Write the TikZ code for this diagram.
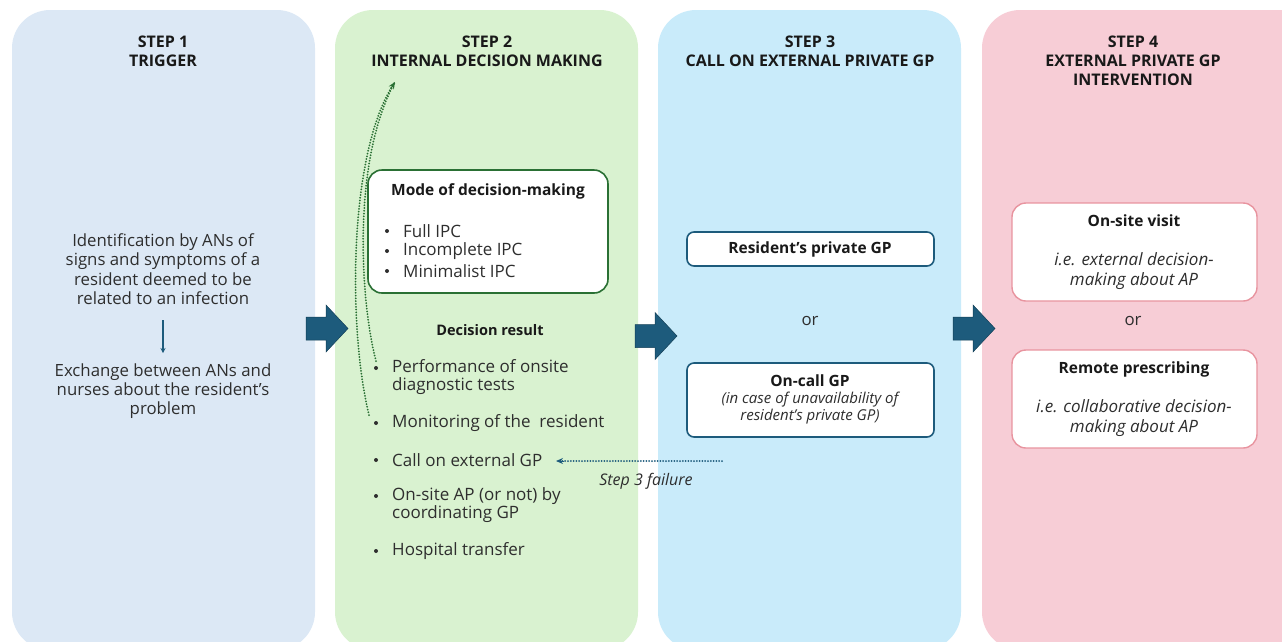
\documentclass[tikz,border=0pt]{standalone}
\usepackage{fontspec}
\setmainfont{Open Sans}
\usetikzlibrary{arrows.meta}
\definecolor{pA}{HTML}{DCE8F5}
\definecolor{pB}{HTML}{D9F2D0}
\definecolor{pC}{HTML}{C9EBFA}
\definecolor{pD}{HTML}{F7CDD6}
\definecolor{arrblue}{HTML}{1D5B7C}
\definecolor{dgreen}{HTML}{2A7034}
\definecolor{pinkb}{HTML}{E8949F}
\definecolor{txt}{HTML}{2E2E2E}
\tikzset{
  panel/.style={rounded corners=38pt, draw=none},
  ttl/.style={font=\fontsize{16}{19}\selectfont\bfseries, align=center, text=black!90},
  body/.style={font=\fontsize{16.8}{19.3}\selectfont, align=center, text=txt},
  hd/.style={font=\fontsize{15.5}{19}\selectfont\bfseries, text=black!90},
  itx/.style={font=\fontsize{17}{20}\selectfont\itshape, align=center, text=txt},
  bl/.style={font=\fontsize{17}{18.5}\selectfont, align=left, text=txt, anchor=west, inner sep=0pt},
  dot/.style={circle, fill=txt, inner sep=0pt, minimum size=4pt},
  boxg/.style={draw=dgreen, line width=1.6pt, rounded corners=14pt, fill=white},
  boxb/.style={draw=arrblue, line width=1.6pt, rounded corners=7pt, fill=white},
  boxp/.style={draw=pinkb, line width=1.4pt, rounded corners=14pt, fill=white},
  bigarrow/.style={fill=arrblue, draw=arrblue!70!black, line width=0.5pt},
  dotline/.style={line width=2pt, dash pattern=on 0pt off 2.8pt, line cap=round},
}
\begin{document}
\begin{tikzpicture}[x=1pt,y=-1pt]
\useasboundingbox (0,0) rectangle (1282,641);
\clip (0,0) rectangle (1282,641);
% panels
\fill[panel,pA] (12,10) rectangle (315,650);
\fill[panel,pB] (335,10) rectangle (638,650);
\fill[panel,pC] (658,10) rectangle (961,650);
\fill[panel,pD] (982,10) rectangle (1320,650);
% titles
\node[ttl] (t1) at (163,51) {STEP 1\\TRIGGER};
\node[ttl] (t2) at (487,51) {STEP 2\\INTERNAL DECISION MAKING};
\node[ttl] (t3) at (810,51) {STEP 3\\CALL ON EXTERNAL PRIVATE GP};
\node[ttl] (t4) at (1133,61) {STEP 4\\EXTERNAL PRIVATE GP\\INTERVENTION};
% step 1
\node[body] (s1a) at (163,269) {Identification by ANs of\\signs and symptoms of a\\resident deemed to be\\related to an infection};
\node[body] (s1b) at (163,391) {Exchange between ANs and\\nurses about the resident’s\\problem};
\draw[arrblue, line width=1.2pt, -{Stealth[length=5pt,width=5pt]}] (163,320) -- (163,353);
% step 2 mode box
\draw[boxg] (368,170) rectangle (608,293);
\node[hd] (mode) at (488,191) {Mode of decision-making};
\foreach \y/\t [count=\i] in {231/Full IPC,251/Incomplete IPC,271/Minimalist IPC}{
  \node[dot] (md\i) at (387,\y) {};
  \node[bl] (mt\i) at (403,\y) {\t};
}
\node[font=\fontsize{14.5}{18}\selectfont\bfseries, text=black!90] (dres) at (490,330) {Decision result};
\node[dot] (b1) at (376,368) {};
\node[bl] (r1) at (392,377) {Performance of onsite\\diagnostic tests};
\node[dot] (b2) at (376,423) {};
\node[bl] (r2) at (392,423) {Monitoring of the\ \ resident};
\node[dot] (b3) at (376,460) {};
\node[bl] (r3) at (392,460) {Call on external GP};
\node[dot] (b4) at (376,496) {};
\node[bl] (r4) at (392,505) {On-site AP (or not) by\\coordinating GP};
\node[dot] (b5) at (376,551) {};
\node[bl] (r5) at (392,551) {Hospital transfer};
% dotted curved arrows
\coordinate (up) at (395,82);
\draw[dgreen, dotline] (369,415) .. controls (348,330) and (348,150) .. (up);
\draw[dgreen, dotline] (376,361) .. controls (360,300) and (352,160) .. (up);
\draw[dgreen, line width=1pt, -{Stealth[length=7pt,width=6pt]}] (390.7,88.8) -- (up);
% step 3
\draw[boxb] (687,232) rectangle (934,266);
\node[hd] (rgp) at (810,249) {Resident’s private GP};
\node[body] (or3) at (810,321) {or};
\draw[boxb] (687,363) rectangle (934,437);
\node[hd] (ocgp) at (810,381) {On-call GP};
\node[font=\fontsize{15}{17.5}\selectfont\itshape, align=center, text=txt] (ocgpi) at (810,408) {(in case of unavailability of\\resident’s private GP)};
% step 3 failure
\coordinate (f0) at (722,461);
\coordinate (f1) at (556,461);
\draw[arrblue, dotline] (f0) -- (562,461);
\draw[arrblue, line width=1pt, -{Stealth[length=7pt,width=6pt]}] (564,461) -- (f1);
\node[font=\fontsize{16}{18}\selectfont\itshape, text=txt] (fl) at (646,481) {Step 3 failure};
% step 4
\draw[boxp] (1012,203) rectangle (1257,301);
\node[hd] (osv) at (1134,221) {On-site visit};
\node[itx] (osvi) at (1134,271) {i.e. external decision-\\making about AP};
\node[body] (or4) at (1133,321) {or};
\draw[boxp] (1012,350) rectangle (1257,448);
\node[hd] (rp) at (1134,369) {Remote prescribing};
\node[itx] (rpi) at (1134,418) {i.e. collaborative decision-\\making about AP};
% big arrows
\foreach \x/\y in {306/328.5, 635/336, 953/328.5}{
  \draw[bigarrow] (\x,\y-11.5) -- (\x+20,\y-11.5) -- (\x+20,\y-23.5) -- (\x+42,\y) -- (\x+20,\y+23.5) -- (\x+20,\y+11.5) -- (\x,\y+11.5) -- cycle;
}
\end{tikzpicture}
\end{document}
